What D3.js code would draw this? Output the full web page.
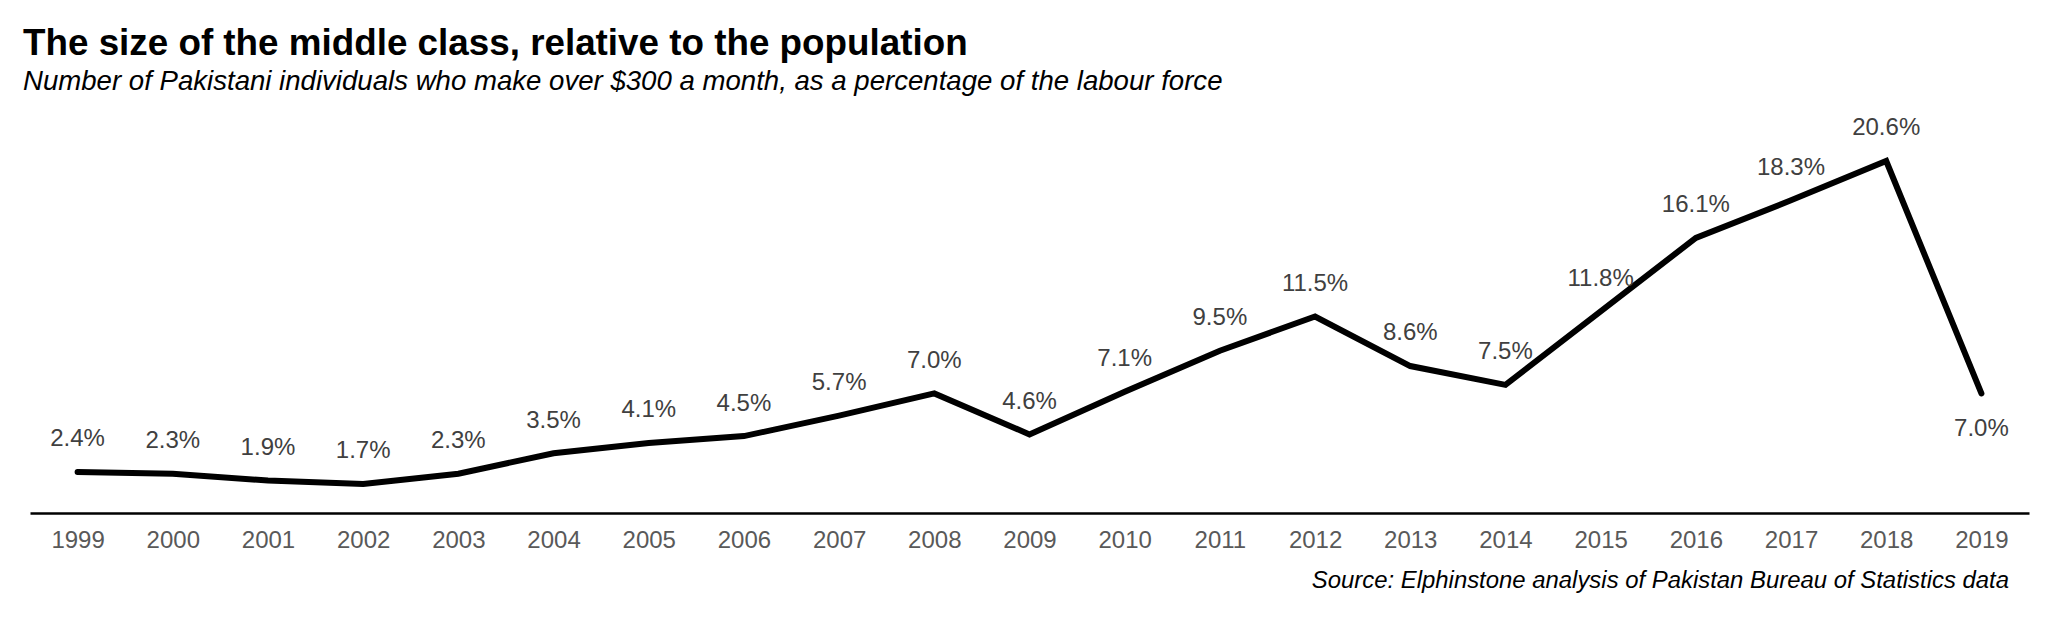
<!DOCTYPE html>
<html>
<head>
<meta charset="utf-8">
<script src="https://cdn.jsdelivr.net/npm/d3@7"></script>
<style>
  html, body { margin: 0; padding: 0; background: #ffffff; }
  svg { display: block; font-family: "Liberation Sans", Arial, sans-serif; }
</style>
</head>
<body>
<svg id="chart" width="2048" height="623"></svg>
<script>
const years = ["1999","2000","2001","2002","2003","2004","2005","2006","2007","2008","2009","2010","2011","2012","2013","2014","2015","2016","2017","2018","2019"];
const values = [2.4, 2.3, 1.9, 1.7, 2.3, 3.5, 4.1, 4.5, 5.7, 7.0, 4.6, 7.1, 9.5, 11.5, 8.6, 7.5, 11.8, 16.1, 18.3, 20.6, 7.0];
const labelBelow = ["2019"];
const titleText = "The size of the middle class, relative to the population";
const subtitleText = "Number of Pakistani individuals who make over $300 a month, as a percentage of the labour force";
const sourceText = "Source: Elphinstone analysis of Pakistan Bureau of Statistics data";

const data = years.map((y, i) => ({ year: y, value: values[i] }));

const svg = d3.select("#chart");

const x = d3.scalePoint().domain(years).range([30, 2029]).padding(0.5);
const y = d3.scaleLinear().domain([0, 20.6]).range([513, 161]);

// Title & subtitle
svg.append("text")
  .attr("x", 23).attr("y", 55)
  .attr("font-size", 36.8).attr("font-weight", "bold").attr("fill", "#000")
  .text(titleText);
svg.append("text")
  .attr("x", 23).attr("y", 90)
  .attr("font-size", 27.6).attr("font-style", "italic").attr("fill", "#000")
  .text(subtitleText);

// X axis
const xAxis = d3.axisBottom(x).tickSize(0).tickPadding(18);
const gx = svg.append("g").attr("transform", `translate(0,${y(0)})`).call(xAxis);
gx.select(".domain").attr("stroke", "#000").attr("stroke-width", 2.5);
gx.selectAll(".tick text")
  .attr("font-family", "Liberation Sans, Arial, sans-serif")
  .attr("font-size", 24).attr("fill", "#595959");

// Line
const line = d3.line().x(d => x(d.year)).y(d => y(d.value));
svg.append("path")
  .datum(data)
  .attr("d", line)
  .attr("fill", "none")
  .attr("stroke", "#000")
  .attr("stroke-width", 6)
  .attr("stroke-linecap", "round")
  .attr("stroke-linejoin", "miter");

// Data labels
svg.append("g").selectAll("text")
  .data(data)
  .join("text")
  .attr("x", d => x(d.year))
  .attr("y", d => y(d.value) + (labelBelow.includes(d.year) ? 34 : -34))
  .attr("dy", "0.35em")
  .attr("text-anchor", "middle")
  .attr("font-size", 24).attr("fill", "#404040")
  .text(d => d.value.toFixed(1) + "%");

// Source
svg.append("text")
  .attr("x", 2009).attr("y", 588)
  .attr("text-anchor", "end")
  .attr("font-size", 23.9).attr("font-style", "italic").attr("fill", "#000")
  .text(sourceText);
</script>
</body>
</html>
